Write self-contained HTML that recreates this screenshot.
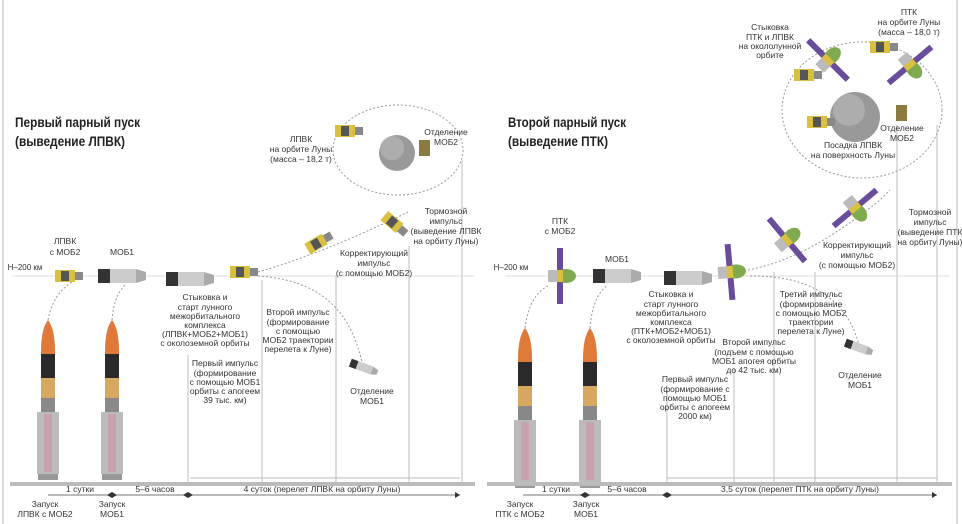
<!DOCTYPE html>
<html><head><meta charset="utf-8"><style>
html,body{margin:0;padding:0;background:#fff}
svg{display:block}
text{font-family:"Liberation Sans Narrow","Liberation Sans",sans-serif;fill:#333;font-size:8.5px;text-anchor:middle}
.t{font-family:"Liberation Sans",sans-serif;font-weight:bold;font-size:14px;fill:#222;text-anchor:start}
.v{stroke:#ccc;stroke-width:1.3}
.d{fill:none;stroke:#999;stroke-width:1;stroke-dasharray:2 2}
</style></head><body>
<svg width="962" height="524" viewBox="0 0 962 524" xmlns="http://www.w3.org/2000/svg">
<defs>
<g id="rk">
<path d="M0,0 C-6,8 -7,20 -7,34 L7,34 C7,20 6,8 0,0Z" fill="#e07a3a"/>
<rect x="-7" y="34" width="14" height="24" fill="#2a2a2a"/>
<rect x="-7" y="58" width="14" height="20" fill="#d8a860"/>
<rect x="-7" y="78" width="14" height="14" fill="#888"/>
<rect x="-11" y="92" width="22" height="62" fill="#bbb"/>
<rect x="-4" y="94" width="8" height="58" fill="#c9a0b0"/>
<rect x="-10" y="154" width="20" height="6" fill="#999"/>
</g>
<g id="cr"><rect x="-10" y="-6" width="20" height="12" fill="#d9c040"/><rect x="-4" y="-5" width="8" height="10" fill="#555"/><rect x="10" y="-4" width="8" height="8" fill="#888"/></g>
<g id="mob"><rect x="-26" y="-7" width="12" height="14" fill="#333"/><rect x="-14" y="-7" width="26" height="14" fill="#ccc"/><path d="M12,-7 L22,-4 L22,4 L12,7Z" fill="#aaa"/></g>
<g id="ptk"><rect x="-3" y="-28" width="6" height="56" fill="#6a4d9a"/><ellipse cx="6" cy="0" rx="10" ry="7" fill="#7faa50"/><rect x="-12" y="-6" width="12" height="12" fill="#bbb"/><rect x="-3" y="-6" width="6" height="12" fill="#d9c040"/></g>
</defs>

<line x1="3" y1="0" x2="3" y2="524" stroke="#ddd" stroke-width="2"/>
<line x1="957" y1="0" x2="957" y2="524" stroke="#ddd" stroke-width="2"/>

<!-- LEFT PANEL -->
<text class="t" x="15" y="127" textLength="125" lengthAdjust="spacingAndGlyphs">Первый парный пуск</text>
<text class="t" x="15" y="146" textLength="110" lengthAdjust="spacingAndGlyphs">(выведение ЛПВК)</text>
<line x1="12" y1="276" x2="474" y2="276" stroke="#ddd"/>
<line class="v" x1="188" y1="355" x2="188" y2="484"/>
<line class="v" x1="262" y1="280" x2="262" y2="484"/>
<line class="v" x1="336" y1="276" x2="336" y2="484"/>
<line class="v" x1="409" y1="246" x2="409" y2="484"/>
<line class="v" x1="462" y1="160" x2="462" y2="484"/>
<text x="25" y="270" style="font-size:8px">Н–200 км</text>
<text x="65" y="244">ЛПВК</text><text x="65" y="255">с МОБ2</text>
<use href="#cr" x="65" y="276"/>
<text x="122" y="255">МОБ1</text>
<use href="#mob" x="124" y="276"/>
<path class="d" d="M48,320 C52,300 60,290 72,282"/>
<path class="d" d="M112,320 C114,300 118,292 126,284"/>
<use href="#rk" x="48" y="320"/>
<use href="#rk" x="112" y="320"/>
<use href="#mob" x="192" y="279"/>
<use href="#cr" x="240" y="272"/>
<path class="d" d="M258,272 C300,260 350,240 400,216 L408,212"/>
<path class="d" d="M258,276 C320,280 350,310 362,362"/>
<g transform="translate(316,244) rotate(-30)"><use href="#cr"/></g>
<g transform="translate(392,222) rotate(40)"><use href="#cr"/></g>
<g transform="translate(365,368) rotate(20)"><use href="#mob" transform="scale(.6)"/></g>
<ellipse class="d" cx="398" cy="150" rx="65" ry="45"/>
<circle cx="397" cy="153" r="18" fill="#999"/>
<circle cx="392" cy="148" r="12" fill="#bbb" opacity=".6"/>
<use href="#cr" x="345" y="131"/>
<rect x="419" y="140" width="11" height="16" fill="#8c7b40"/>
<text x="301" y="142">ЛПВК</text><text x="301" y="152">на орбите Луны</text><text x="301" y="162">(масса – 18,2 т)</text>
<text x="446" y="135">Отделение</text><text x="446" y="145">МОБ2</text>
<text x="446" y="214">Тормозной</text><text x="446" y="224">импульс</text><text x="446" y="234">(выведение ЛПВК</text><text x="446" y="244">на орбиту Луны)</text>
<text x="374" y="256">Корректирующий</text><text x="374" y="266">импульс</text><text x="374" y="276">(с помощью МОБ2)</text>
<text x="205" y="300">Стыковка и</text><text x="205" y="310">старт лунного</text><text x="205" y="319">межорбитального</text><text x="205" y="328">комплекса</text><text x="205" y="337">(ЛПВК+МОБ2+МОБ1)</text><text x="205" y="346">с околоземной орбиты</text>
<text x="298" y="315">Второй импульс</text><text x="298" y="325">(формирование</text><text x="298" y="334">с помощью</text><text x="298" y="343">МОБ2 траектории</text><text x="298" y="352">перелета к Луне)</text>
<text x="225" y="366">Первый импульс</text><text x="225" y="376">(формирование</text><text x="225" y="385">с помощью МОБ1</text><text x="225" y="394">орбиты с апогеем</text><text x="225" y="403">39 тыс. км)</text>
<text x="372" y="394">Отделение</text><text x="372" y="404">МОБ1</text>
<line x1="190" y1="478" x2="460" y2="478" stroke="#bbb"/>
<rect x="10" y="482" width="465" height="4" fill="#bbb"/>
<line x1="48" y1="495" x2="460" y2="495" stroke="#777"/>
<g fill="#333"><path d="M183,495 l5,-3 v6z"/><path d="M193,495 l-5,-3 v6z"/><path d="M460,495 l-5,-3 v6z"/><path d="M117,495 l-5,-3 v6z"/><path d="M107,495 l5,-3 v6z"/></g>
<text x="80" y="492">1 сутки</text><text x="155" y="492">5–6 часов</text><text x="322" y="492">4 суток (перелет ЛПВК на орбиту Луны)</text>
<text x="45" y="507">Запуск</text><text x="45" y="517">ЛПВК с МОБ2</text>
<text x="112" y="507">Запуск</text><text x="112" y="517">МОБ1</text>

<!-- RIGHT PANEL -->
<text class="t" x="508" y="127" textLength="118" lengthAdjust="spacingAndGlyphs">Второй парный пуск</text>
<text class="t" x="508" y="146" textLength="100" lengthAdjust="spacingAndGlyphs">(выведение ПТК)</text>
<line x1="505" y1="276" x2="950" y2="276" stroke="#ddd"/>
<line class="v" x1="667" y1="390" x2="667" y2="484"/>
<line class="v" x1="734" y1="368" x2="734" y2="484"/>
<line class="v" x1="774" y1="272" x2="774" y2="484"/>
<line class="v" x1="815" y1="272" x2="815" y2="484"/>
<line class="v" x1="897" y1="125" x2="897" y2="484"/>
<line class="v" x1="937" y1="125" x2="937" y2="484"/>
<text x="511" y="270" style="font-size:8px">Н–200 км</text>
<text x="560" y="224">ПТК</text><text x="560" y="234">с МОБ2</text>
<use href="#ptk" x="560" y="276"/>
<text x="617" y="262">МОБ1</text>
<use href="#mob" x="619" y="276"/>
<path class="d" d="M525,328 C528,305 536,292 548,286"/>
<path class="d" d="M590,328 C592,305 598,292 608,285"/>
<use href="#rk" x="525" y="328"/>
<use href="#rk" x="590" y="328"/>
<use href="#mob" x="690" y="278"/>
<use href="#ptk" x="730" y="272" transform="rotate(-5 730 272)"/>
<path class="d" d="M748,270 C790,262 830,240 880,200 L890,190"/>
<path class="d" d="M750,276 C810,275 850,300 860,350"/>
<g transform="translate(787,240) rotate(-40)"><use href="#ptk"/></g>
<g transform="translate(855,208) rotate(50)"><use href="#ptk"/></g>
<g transform="translate(860,348) rotate(20)"><use href="#mob" transform="scale(.6)"/></g>
<ellipse class="d" cx="862" cy="110" rx="80" ry="68"/>
<circle cx="855" cy="117" r="25" fill="#999"/>
<circle cx="849" cy="110" r="16" fill="#bbb" opacity=".6"/>
<g transform="translate(828,60) rotate(-45)"><use href="#ptk"/></g>
<g transform="translate(910,65) rotate(50)"><use href="#ptk"/></g>
<use href="#cr" x="804" y="75"/><use href="#cr" x="880" y="47"/><use href="#cr" x="817" y="122"/>
<rect x="896" y="105" width="11" height="16" fill="#8c7b40"/>
<text x="770" y="30">Стыковка</text><text x="770" y="40">ПТК и ЛПВК</text><text x="770" y="49">на окололунной</text><text x="770" y="58">орбите</text>
<text x="909" y="15">ПТК</text><text x="909" y="25">на орбите Луны</text><text x="909" y="35">(масса – 18,0 т)</text>
<text x="902" y="131">Отделение</text><text x="902" y="141">МОБ2</text>
<text x="853" y="148">Посадка ЛПВК</text><text x="853" y="158">на поверхность Луны</text>
<text x="930" y="215">Тормозной</text><text x="930" y="225">импульс</text><text x="930" y="235">(выведение ПТК</text><text x="930" y="245">на орбиту Луны)</text>
<text x="857" y="248">Корректирующий</text><text x="857" y="258">импульс</text><text x="857" y="268">(с помощью МОБ2)</text>
<text x="671" y="297">Стыковка и</text><text x="671" y="307">старт лунного</text><text x="671" y="316">межорбитального</text><text x="671" y="325">комплекса</text><text x="671" y="334">(ПТК+МОБ2+МОБ1)</text><text x="671" y="343">с околоземной орбиты</text>
<text x="811" y="297">Третий импульс</text><text x="811" y="307">(формирование</text><text x="811" y="316">с помощью МОБ2</text><text x="811" y="325">траектории</text><text x="811" y="334">перелета к Луне)</text>
<text x="754" y="345">Второй импульс</text><text x="754" y="355">(подъем с помощью</text><text x="754" y="364">МОБ1 апогея орбиты</text><text x="754" y="373">до 42 тыс. км)</text>
<text x="695" y="382">Первый импульс</text><text x="695" y="392">(формирование с</text><text x="695" y="401">помощью МОБ1</text><text x="695" y="410">орбиты с апогеем</text><text x="695" y="419">2000 км)</text>
<text x="860" y="378">Отделение</text><text x="860" y="388">МОБ1</text>
<line x1="667" y1="478" x2="937" y2="478" stroke="#bbb"/>
<rect x="487" y="482" width="465" height="4" fill="#bbb"/>
<line x1="523" y1="495" x2="937" y2="495" stroke="#777"/>
<g fill="#333"><path d="M662,495 l5,-3 v6z"/><path d="M672,495 l-5,-3 v6z"/><path d="M937,495 l-5,-3 v6z"/><path d="M590,495 l-5,-3 v6z"/><path d="M580,495 l5,-3 v6z"/></g>
<text x="556" y="492">1 сутки</text><text x="627" y="492">5–6 часов</text><text x="800" y="492">3,5 суток (перелет ПТК на орбиту Луны)</text>
<text x="520" y="507">Запуск</text><text x="520" y="517">ПТК с МОБ2</text>
<text x="586" y="507">Запуск</text><text x="586" y="517">МОБ1</text>
</svg>
</body></html>
